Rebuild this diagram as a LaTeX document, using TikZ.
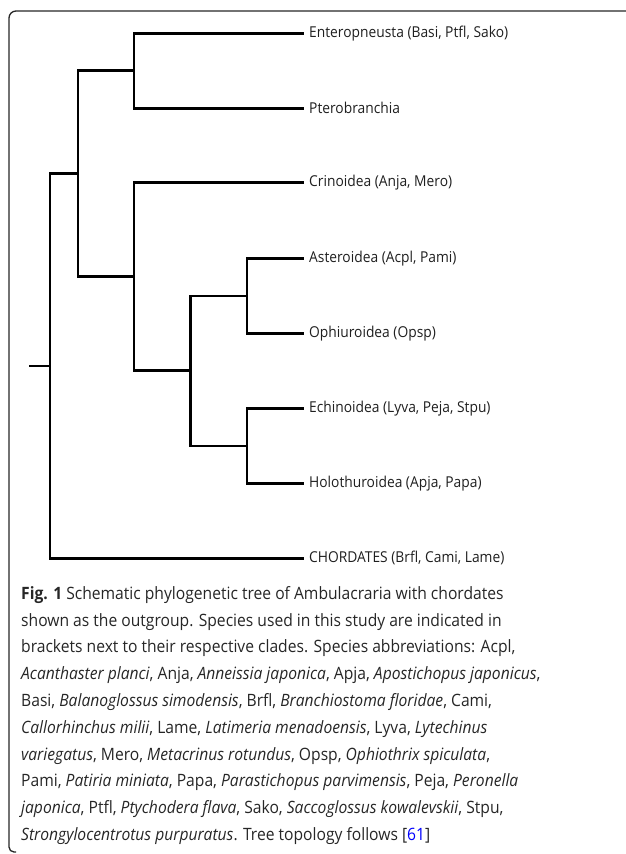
\documentclass[tikz,border=0pt]{standalone}
\usepackage{fontspec}
\setmainfont{Open Sans}[FakeStretch=0.92]
\begin{document}
\begin{tikzpicture}[x=1pt,y=-1pt,
  branch/.style={line width=2.5pt,black,line cap=rect},
  leaf/.style={anchor=west,inner xsep=6pt,inner ysep=0pt,font=\fontsize{15}{18}\selectfont,text=black!88},
  frame/.style={line width=1.3pt,black!85}]
\useasboundingbox (0,0) rectangle (625,854);
% frame
\draw[frame] (626,11) -- (16,11) arc[start angle=270,end angle=180,radius=7] -- (9,847) arc[start angle=180,end angle=90,radius=5] -- (16,852);
% leaves
\node[leaf] (ent) at (303,33.3) {Enteropneusta (Basi, Ptfl, Sako)};
\node[leaf] (pte) at (303,108.3) {Pterobranchia};
\node[leaf] (cri) at (303,182.7) {Crinoidea (Anja, Mero)};
\node[leaf] (ast) at (303,258.3) {Asteroidea (Acpl, Pami)};
\node[leaf] (oph) at (303,333.3) {Ophiuroidea (Opsp)};
\node[leaf] (ech) at (303,408.3) {Echinoidea (Lyva, Peja, Stpu)};
\node[leaf] (hol) at (303,483.3) {Holothuroidea (Apja, Papa)};
\node[leaf] (cho) at (303,558.3) {CHORDATES (Brfl, Cami, Lame)};
% internal nodes
\coordinate (r0) at (30,366);
\coordinate (n1) at (50,366);
\coordinate (n2) at (78,173.7);
\coordinate (n3) at (134,70.7);
\coordinate (n4) at (134,276.7);
\coordinate (n5) at (190.7,370.7);
\coordinate (n6) at (247,295.8);
\coordinate (n7) at (247,445.8);
% branches
\draw[branch] (r0) -- (n1);
\draw[branch] (n2) -| (n1) |- (cho.west);
\draw[branch] (n3) -| (n2) |- (n4);
\draw[branch] (ent.west) -| (n3) |- (pte.west);
\draw[branch] (cri.west) -| (n4) |- (n5);
\draw[branch] (n6) -| (n5) |- (n7);
\draw[branch] (ast.west) -| (n6) |- (oph.west);
\draw[branch] (ech.west) -| (n7) |- (hol.west);
% caption
\node[anchor=north west,inner sep=0pt,align=left,text=black!85,
  font=\fontsize{17}{26.8}\selectfont] (cap) at (21,586) {%
\textbf{Fig. 1} Schematic phylogenetic tree of Ambulacraria with chordates\\
shown as the outgroup. Species used in this study are indicated in\\
brackets next to their respective clades. Species abbreviations: Acpl,\\
\textit{Acanthaster planci}, Anja, \textit{Anneissia japonica}, Apja, \textit{Apostichopus japonicus},\\
Basi, \textit{Balanoglossus simodensis}, Brfl, \textit{Branchiostoma floridae}, Cami,\\
\textit{Callorhinchus milii}, Lame, \textit{Latimeria menadoensis}, Lyva, \textit{Lytechinus}\\
\textit{variegatus}, Mero, \textit{Metacrinus rotundus}, Opsp, \textit{Ophiothrix spiculata},\\
Pami, \textit{Patiria miniata}, Papa, \textit{Parastichopus parvimensis}, Peja, \textit{Peronella}\\
\textit{japonica}, Ptfl, \textit{Ptychodera flava}, Sako, \textit{Saccoglossus kowalevskii}, Stpu,\\
\textit{Strongylocentrotus purpuratus}. Tree topology follows [\textcolor{blue}{61}]};
\end{tikzpicture}
\end{document}
